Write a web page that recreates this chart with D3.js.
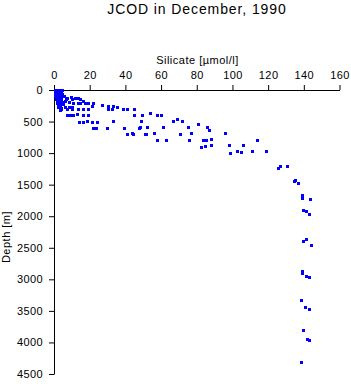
<!DOCTYPE html>
<html>
<head>
<meta charset="utf-8">
<script src="https://cdn.jsdelivr.net/npm/d3@7"></script>
<style>
html,body{margin:0;padding:0;background:#fff;}
svg{display:block;}
</style>
</head>
<body>
<svg id="chart" width="351" height="384"></svg>
<script>
// Silicate [µmol/l] values
const silicate = [
  0.5,1.5,2.5,3.5,4.5, 0.5,1.5,2.8,4.2, 0.6,1.8,3.0,4.4, 0.8,2.0,3.3,4.6,
  1.0,2.4,3.8, 1.2,2.8,4.0, 1.5,3.0,4.5, 1.8,3.5, 2.0,3.6, 2.5,4.0,
  5.5,6.5,6.0,5.0,
  7.3,9.5,11.8,13.5,14.6,10.0,8.4,16.3,10.7,13.5,14.6,17.4,19.1,21.9,21.3,
  3.4,6.0,8.4,10.1,3.9,3.4,7.3,10.1,13.5,16.3,19.1,
  7.3,9.0,10.7,12.9,16.3,19.1,14.0,16.3,18.5,21.3,24.1,21.9,23.5,
  26.9,30.3,33.1,35.3,30.3,32.5,38.7,40.9,44.8,29.7,33.1,39.2,
  44.8,49.3,53.8,57.7,60.0,48.8,48.2,52.1,47.6,61.1,
  40.9,43.7,44.3,51.0,51.6,56.1,57.7,62.8,
  66.7,68.9,71.7,70.6,75.1,76.8,75.7,80.7,85.8,86.9,
  83.5,85.2,88.0,88.0,82.4,84.6,88.0,95.9,98.1,98.7,102.6,104.8,105.9,111.0,113.8,118.8,
  126.7,125.6,130.6,134.5,135.1,136.8,139.0,139.0,143.5,
  139.6,141.3,142.9,139.6,141.3,144.0,139.0,139.0,141.3,142.9,
  138.5,140.7,142.9,139.6,141.8,142.9,138.5
];
// Depth [m] values
const depth = [
  0,0,0,0,0, 30,30,30,30, 60,60,60,60, 90,90,90,90,
  120,120,120, 150,150,150, 180,180,185, 210,215, 240,245, 270,280,
  100,140,180,220,
  127,111,127,127,142,142,190,174,206,206,206,206,206,206,253,
  269,269,269,269,301,317,301,301,301,301,301,
  396,396,396,380,396,396,507,507,491,507,507,602,602,
  237,253,253,269,301,301,301,301,301,602,491,602,
  396,396,364,396,396,491,586,586,602,586,
  697,681,697,697,697,681,792,792,
  491,459,491,697,586,681,792,538,586,633,
  792,792,776,871,902,887,871,681,871,997,966,981,871,966,792,966,
  1203,1235,1203,1441,1425,1472,1662,1710,1725,
  1900,1915,1963,2390,2359,2454,2865,2897,2944,2960,
  3324,3435,3467,3799,3942,3958,4306
];
const xTicks = [0,20,40,60,80,100,120,140,160];
const yTicks = [0,500,1000,1500,2000,2500,3000,3500,4000,4500];

const svg = d3.select("#chart");
const font = "'Liberation Sans', Arial, Helvetica, sans-serif";

const x = d3.scaleLinear().domain([0,160]).range([54,339.5]);
const y = d3.scaleLinear().domain([0,4500]).range([90,374]);

svg.append("text")
  .attr("x",197).attr("y",13.5)
  .attr("text-anchor","middle")
  .attr("font-family",font).attr("font-size",14)
  .attr("letter-spacing","0.9px")
  .text("JCOD in December, 1990");

svg.append("text")
  .attr("x",197.5).attr("y",64)
  .attr("text-anchor","middle")
  .attr("font-family",font).attr("font-size",11)
  .attr("letter-spacing","0.5px")
  .text("Silicate [\u00b5mol/l]");

svg.append("text")
  .attr("transform","translate(10,237) rotate(-90)")
  .attr("text-anchor","middle")
  .attr("font-family",font).attr("font-size",11)
  .attr("letter-spacing","0.5px")
  .text("Depth [m]");

const gx = svg.append("g")
  .attr("transform","translate(0,90)")
  .call(d3.axisTop(x).tickValues(xTicks).tickFormat(d3.format("d")).tickSize(5).tickSizeOuter(0).tickPadding(6));
const gy = svg.append("g")
  .attr("transform","translate(54,0)")
  .call(d3.axisLeft(y).tickValues(yTicks).tickFormat(d3.format("d")).tickSize(5).tickSizeOuter(0).tickPadding(6));

[gx,gy].forEach(g=>{
  g.attr("font-family",font).attr("font-size",11);
  g.selectAll("text").attr("fill","#000").attr("letter-spacing","0.4px");
  g.selectAll("line,path").attr("stroke","#000");
});

const pts = silicate.map((s,i)=>({s, d: depth[i]}));
svg.append("g").selectAll("rect").data(pts).join("rect")
  .attr("x", p => Math.round(x(p.s)) - 1)
  .attr("y", p => Math.round(y(p.d)) - 1)
  .attr("width",3).attr("height",3)
  .attr("fill","#0000ff");
</script>
</body>
</html>
